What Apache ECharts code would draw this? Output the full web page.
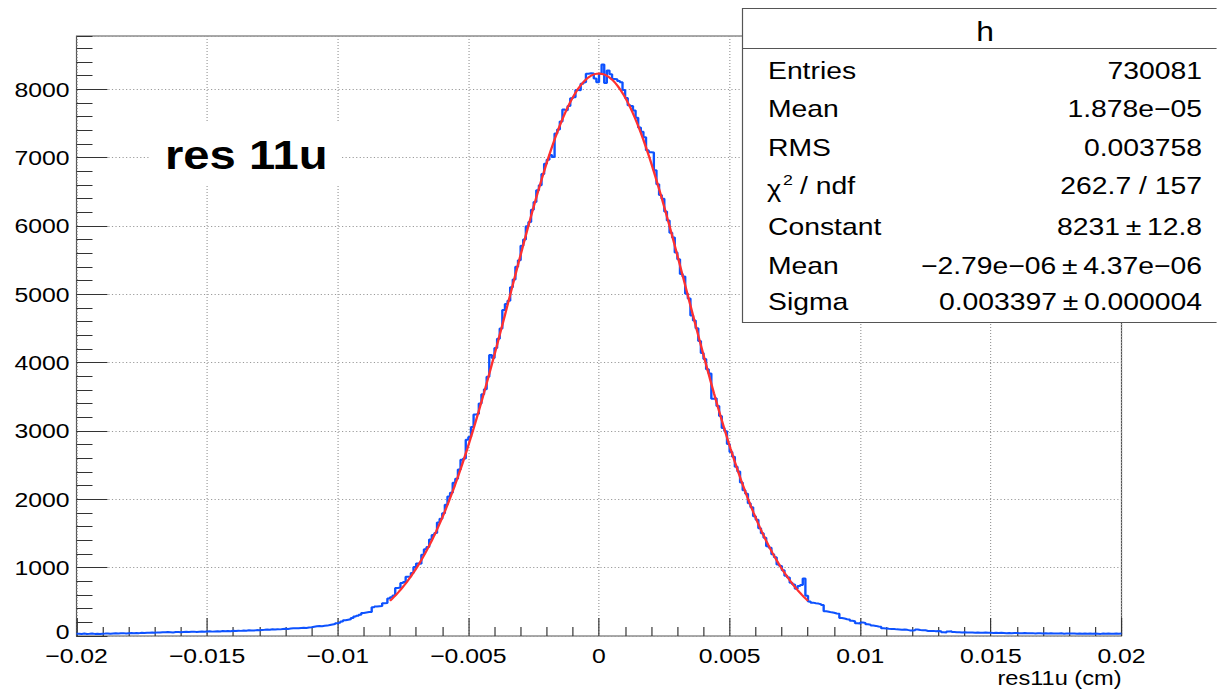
<!DOCTYPE html>
<html>
<head>
<meta charset="utf-8">
<title>res11u</title>
<script src="https://cdn.jsdelivr.net/npm/echarts@6/dist/echarts.min.js"></script>
<style>
  html, body { margin: 0; padding: 0; background: #fff; overflow: hidden; }
  #stage { position: relative; width: 1217px; height: 691px; overflow: hidden; }
  #chart { position: absolute; left: 0; top: 0; height: 691px; transform-origin: 0 0; }
</style>
</head>
<body>
<div id="stage"><div id="chart"></div></div>
<script>
// Histogram of residuals, 400 bins over [-0.02, 0.02] cm
const xRange = [-0.02, 0.02];
const counts = [
  33, 30, 35, 29, 32, 36, 31, 34, 28, 33,   35, 38, 33, 37, 40, 36, 39, 42, 38, 41,
  43, 40, 45, 42, 47, 44, 48, 46, 51, 49,   53, 50, 56, 54, 58, 55, 52, 57, 60, 56,
  59, 62, 58, 61, 64, 60, 63, 66, 62, 65,   68, 64, 67, 70, 66, 72, 69, 74, 71, 76,
  73, 78, 75, 80, 77, 83, 79, 82, 86, 84,   88, 91, 95, 92, 98, 96, 100, 97, 103, 106,
  104, 109, 112, 115, 113, 118, 120, 117, 124, 128,   135, 142, 146, 144, 150, 152, 160, 168, 175, 186,
  196, 212, 230, 238, 246, 262, 285, 296, 312, 338,   344, 350, 352, 420, 432, 436, 440, 478, 482, 548,
  568, 592, 702, 710, 776, 790, 868, 872, 921, 1008,   1062, 1056, 1189, 1268, 1302, 1412, 1478, 1509, 1662, 1714,
  1796, 1921, 2042, 2098, 2243, 2301, 2436, 2578, 2596, 2870,   2912, 3058, 3242, 3251, 3402, 3538, 3611, 3792, 4112, 4068,
  4215, 4351, 4498, 4772, 4860, 4905, 5102, 5218, 5402, 5498,   5710, 5802, 5996, 6058, 6238, 6352, 6522, 6596, 6762, 6910,
  6968, 7040, 7010, 7352, 7410, 7530, 7705, 7694, 7756, 7870,   7882, 7990, 7986, 8080, 8102, 8228, 8236, 8232, 8158, 8104,
  8226, 8362, 8094, 8276, 8222, 8150, 8146, 8120, 8102, 7988,   7872, 7768, 7756, 7690, 7584, 7440, 7380, 7300, 7108, 7080,
  7075, 6815, 6612, 6452, 6398, 6212, 6080, 5902, 5830, 5612,   5512, 5298, 5262, 5008, 4940, 4690, 4618, 4502, 4318, 4140,
  4052, 3905, 3840, 3470, 3480, 3364, 3218, 3042, 2998, 2808,   2692, 2622, 2476, 2408, 2248, 2132, 2082, 1942, 1884, 1752,
  1702, 1578, 1502, 1438, 1312, 1290, 1196, 1152, 1046, 1024,   962, 880, 856, 778, 752, 690, 731, 745, 842, 590,
  505, 488, 480, 474, 466, 452, 362, 354, 346, 340,   330, 326, 262, 255, 246, 240, 222, 215, 188, 182,
  198, 192, 172, 166, 152, 148, 138, 134, 114, 110,   106, 104, 101, 97, 95, 93, 96, 90, 82, 79,
  84, 96, 88, 85, 83, 74, 72, 75, 70, 73,   71, 55, 53, 66, 68, 57, 54, 56, 52, 55,
  53, 50, 51, 48, 52, 49, 47, 50, 46, 48,   45, 47, 43, 46, 44, 42, 45, 41, 44, 43,
  42, 40, 43, 41, 39, 42, 38, 41, 40, 37,   39, 36, 40, 38, 35, 37, 39, 34, 36, 38,
  35, 37, 33, 36, 34, 38, 32, 35, 33, 36,   34, 31, 35, 33, 36, 32, 34, 37, 33, 35
];

// Gaussian fit result
const fitConstant = 8231;
const fitMean = -2.79e-6;
const fitSigma = 0.003397;
const fitRange = [-0.008, 0.008];

// Axis ticks
const xTickLabels = ['\u22120.02', '\u22120.015', '\u22120.01', '\u22120.005', '0', '0.005', '0.01', '0.015', '0.02'];
const yTickLabels = ['0', '1000', '2000', '3000', '4000', '5000', '6000', '7000', '8000'];
const yMax = 8780;
const xTitle = 'res11u (cm)';
const padLabel = 'res 11u';

// Statistics box
const statsTitle = 'h';
const statsNames = ['Entries', 'Mean', 'RMS', null, 'Constant', 'Mean', 'Sigma'];
const statsValues = ['730081', '1.878e\u221205', '0.003758', '262.7 / 157',
  '8231\u2009\u00b1\u200912.8', '\u22122.79e\u221206\u2009\u00b1\u20094.37e\u221206', '0.003397\u2009\u00b1\u20090.000004'];

// ---------------------------------------------------------------
// Canvas is laid out narrow and widened with a horizontal stretch.
const SX = 1.18;
const W = 1217 / SX;
const X = px => px / SX;
const FONT = "'Liberation Sans', Arial, Helvetica, sans-serif";

const el = document.getElementById('chart');
el.style.width = W + 'px';
el.style.transform = 'scaleX(' + SX + ')';

const chart = echarts.init(el, null, { renderer: 'svg', width: W, height: 691 });

const binWidth = (xRange[1] - xRange[0]) / counts.length;
const histPoints = counts.map((c, i) => [xRange[0] + i * binWidth, c]);
histPoints.push([xRange[1], counts[counts.length - 1]]);

const fitPoints = [];
const nFit = 200;
for (let k = 0; k <= nFit; k++) {
  const x = fitRange[0] + (fitRange[1] - fitRange[0]) * k / nFit;
  const z = (x - fitMean) / fitSigma;
  fitPoints.push([x, fitConstant * Math.exp(-0.5 * z * z)]);
}

const gridRect = { left: 76.5, right: 1121.5, top: 36, bottom: 636 };
const tickColor = '#333';
const gridLine = { color: '#9a9a9a', width: 1, type: [1, 2] };

// stats rows: vertical centres
const rowY = [70.5, 109, 148, 186, 226.5, 265.5, 302];
const statGraphics = [];
statsNames.forEach((name, i) => {
  if (name !== null) {
    statGraphics.push({ type: 'text', x: X(768), y: rowY[i], z: 102,
      style: { text: name, fontSize: 24, fontFamily: FONT, fill: '#000', align: 'left', verticalAlign: 'middle' } });
  } else {
    statGraphics.push({ type: 'text', x: X(767), y: rowY[i] + 3, z: 102,
      style: { text: '\u03c7', fontSize: 23, fontFamily: FONT, fill: '#000', align: 'left', verticalAlign: 'middle' } });
    statGraphics.push({ type: 'text', x: X(783), y: rowY[i] - 6, z: 102,
      style: { text: '2', fontSize: 15, fontFamily: FONT, fill: '#000', align: 'left', verticalAlign: 'middle' } });
    statGraphics.push({ type: 'text', x: X(800), y: rowY[i], z: 102,
      style: { text: '/ ndf', fontSize: 24, fontFamily: FONT, fill: '#000', align: 'left', verticalAlign: 'middle' } });
  }
  statGraphics.push({ type: 'text', x: X(1202), y: rowY[i], z: 102,
    style: { text: statsValues[i], fontSize: 24, fontFamily: FONT, fill: '#000', align: 'right', verticalAlign: 'middle' } });
});

chart.setOption({
  animation: false,
  backgroundColor: '#fff',
  grid: {
    show: true,
    left: X(gridRect.left),
    right: W - X(gridRect.right),
    top: gridRect.top,
    bottom: 691 - gridRect.bottom,
    borderColor: '#555',
    borderWidth: 1,
    backgroundColor: '#fff'
  },
  xAxis: [{
    type: 'value',
    min: xRange[0],
    max: xRange[1],
    interval: 0.005,
    axisLine: { show: false, onZero: false },
    axisTick: { show: true, inside: true, length: 18, lineStyle: { color: tickColor, width: 1 } },
    minorTick: { show: true, splitNumber: 5, length: 9, lineStyle: { color: tickColor, width: 1 } },
    splitLine: { show: true, lineStyle: gridLine },
    axisLabel: {
      show: true, margin: 12, fontSize: 21, lineHeight: 16, fontFamily: FONT, color: '#000',
      showMinLabel: true, showMaxLabel: true,
      formatter: v => xTickLabels[Math.round((v - xRange[0]) / 0.005)]
    }
  }],
  yAxis: [{
    type: 'value',
    min: 0,
    max: yMax,
    interval: 1000,
    position: 'left',
    axisLine: { show: false, onZero: false },
    axisTick: { show: true, inside: true, length: X(31), lineStyle: { color: tickColor, width: 1 } },
    splitLine: { show: true, lineStyle: gridLine },
    axisLabel: {
      show: true, margin: X(7), fontSize: 21, lineHeight: 16, fontFamily: FONT, color: '#000',
      showMaxLabel: false,
      rich: {
        // the zero label sits a little higher so it clears the x labels
        z: { fontSize: 21, lineHeight: 16, fontFamily: FONT, color: '#000', padding: [0, 0, 8, 0] }
      },
      formatter: v => {
        const k = Math.round(v / 1000);
        if (Math.abs(v - k * 1000) > 1e-6) return '';
        const s = yTickLabels[k] || '';
        return k === 0 ? '{z|' + s + '}' : s;
      }
    }
  }, {
    type: 'value',
    min: 0,
    max: yMax,
    interval: 200,
    position: 'left',
    offset: 0,
    axisLine: { show: false, onZero: false },
    axisTick: { show: true, inside: true, length: X(16), lineStyle: { color: tickColor, width: 1 } },
    splitLine: { show: false },
    axisLabel: { show: false }
  }],
  series: [{
    name: 'h',
    type: 'line',
    step: 'end',
    data: histPoints,
    showSymbol: false,
    symbol: 'none',
    clip: true,
    lineStyle: { color: '#0d52ff', width: 2 },
    z: 3
  }, {
    name: 'gaus',
    type: 'line',
    data: fitPoints,
    showSymbol: false,
    symbol: 'none',
    smooth: false,
    lineStyle: { color: '#ff3030', width: 2 },
    z: 4
  }],
  graphic: [
    // pad label with its white box
    { type: 'rect', z: 50, shape: { x: X(150), y: 122, width: X(190), height: 64 }, style: { fill: '#fff' } },
    { type: 'text', x: X(165), y: 155, z: 51,
      style: { text: padLabel, fontSize: 40, fontWeight: 'bold', fontFamily: FONT, fill: '#000', align: 'left', verticalAlign: 'middle' } },
    // axis title
    { type: 'text', x: X(1121.5), y: 678, z: 51,
      style: { text: xTitle, fontSize: 20, fontFamily: FONT, fill: '#000', align: 'right', verticalAlign: 'middle' } },
    // statistics box
    { type: 'rect', z: 100, shape: { x: X(742.5), y: 8.5, width: X(1250 - 742.5), height: 314 },
      style: { fill: '#fff', stroke: '#555', lineWidth: 1 } },
    { type: 'line', z: 101, shape: { x1: X(742.5), y1: 48.5, x2: X(1250), y2: 48.5 },
      style: { stroke: '#555', lineWidth: 1 } },
    { type: 'text', x: X(985), y: 31, z: 102,
      style: { text: statsTitle, fontSize: 27, fontFamily: FONT, fill: '#000', align: 'center', verticalAlign: 'middle' } }
  ].concat(statGraphics)
});
</script>
</body>
</html>
